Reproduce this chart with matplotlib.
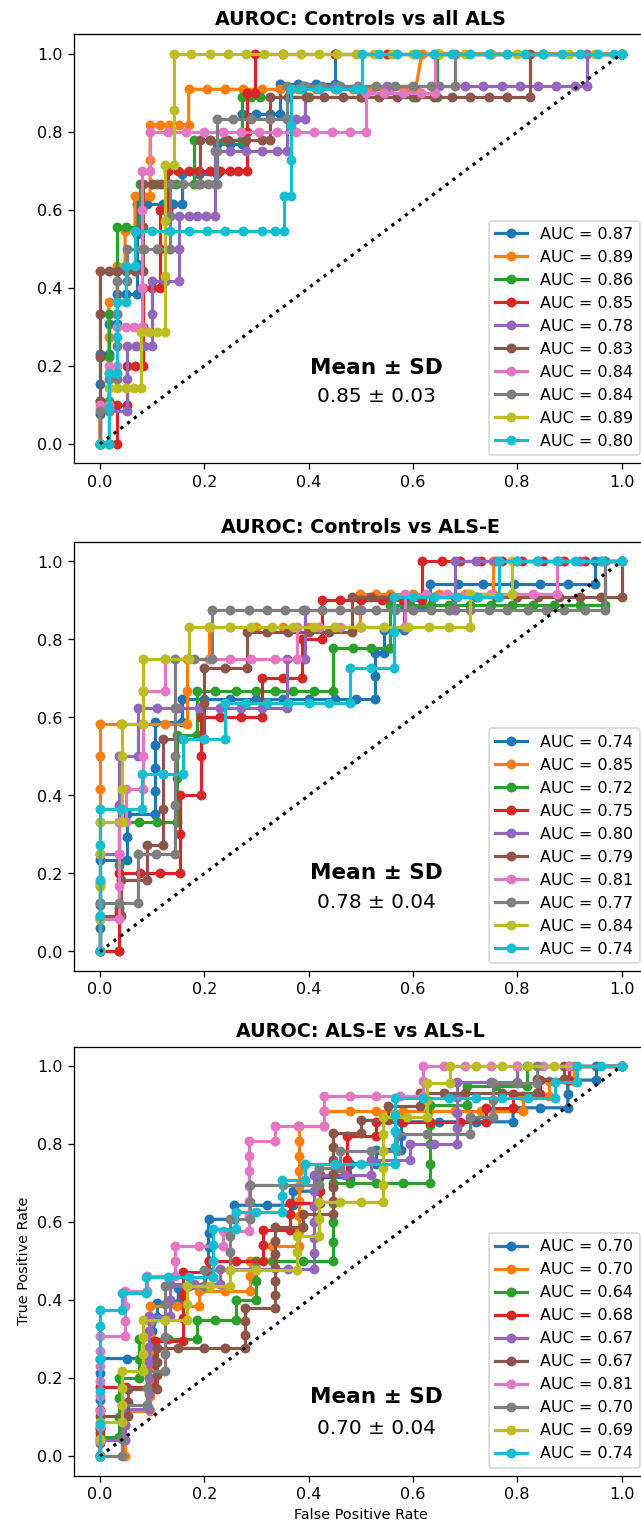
import matplotlib
matplotlib.use("Agg")
import matplotlib.pyplot as plt

# --- data (fpr, tpr) points per fold ---

# panel 1: Controls vs all ALS
all_c0 = [(0,0),(0,0.077),(0,0.154),(0,0.231),(0.017,0.231),(0.017,0.308),(0.033,0.308),(0.033,0.385),(0.05,0.385),(0.07,0.385),(0.07,0.462),(0.07,0.538),(0.07,0.615),(0.09,0.615),(0.12,0.615),(0.14,0.615),(0.157,0.615),(0.157,0.692),(0.19,0.692),(0.224,0.692),(0.224,0.769),(0.25,0.769),(0.272,0.769),(0.272,0.846),(0.3,0.846),(0.325,0.846),(0.345,0.846),(0.345,0.923),(0.38,0.923),(0.415,0.923),(0.45,0.923),(0.45,1.0),(1.0,1.0)]
all_c1 = [(0,0),(0,0.091),(0.017,0.091),(0.017,0.182),(0.017,0.273),(0.017,0.364),(0.033,0.364),(0.033,0.455),(0.048,0.455),(0.048,0.545),(0.067,0.545),(0.067,0.636),(0.083,0.636),(0.096,0.636),(0.096,0.727),(0.096,0.818),(0.115,0.818),(0.133,0.818),(0.152,0.818),(0.17,0.818),(0.17,0.909),(0.205,0.909),(0.24,0.909),(0.275,0.909),(0.31,0.909),(0.345,0.909),(0.38,0.909),(0.415,0.909),(0.45,0.909),(0.485,0.909),(0.52,0.909),(0.555,0.909),(0.59,0.909),(0.605,0.909),(0.617,1.0),(1.0,1.0)]
all_c2 = [(0,0),(0,0.111),(0.017,0.111),(0.017,0.222),(0.017,0.333),(0.033,0.333),(0.033,0.444),(0.033,0.556),(0.05,0.556),(0.077,0.556),(0.077,0.667),(0.11,0.667),(0.145,0.667),(0.18,0.667),(0.18,0.778),(0.21,0.778),(0.24,0.778),(0.272,0.778),(0.272,0.889),(0.29,0.889),(0.307,0.889),(0.4,0.889),(0.5,0.889),(0.6,0.889),(0.647,0.889),(0.647,1.0),(1.0,1.0)]
all_c3 = [(0,0),(0.033,0),(0.033,0.1),(0.051,0.1),(0.051,0.2),(0.067,0.2),(0.083,0.2),(0.083,0.3),(0.083,0.4),(0.1,0.4),(0.115,0.4),(0.115,0.5),(0.115,0.6),(0.131,0.6),(0.131,0.7),(0.15,0.7),(0.17,0.7),(0.19,0.7),(0.21,0.7),(0.23,0.7),(0.25,0.7),(0.265,0.7),(0.281,0.7),(0.281,0.8),(0.281,0.9),(0.297,0.9),(0.297,1.0),(0.35,1.0),(0.45,1.0),(0.55,1.0),(0.65,1.0),(0.75,1.0),(0.85,1.0),(1.0,1.0)]
all_c4 = [(0,0),(0.017,0),(0.017,0.083),(0.051,0.083),(0.051,0.167),(0.051,0.25),(0.068,0.25),(0.085,0.25),(0.1,0.25),(0.1,0.333),(0.1,0.417),(0.125,0.417),(0.152,0.417),(0.152,0.5),(0.152,0.583),(0.17,0.583),(0.185,0.583),(0.203,0.583),(0.22,0.583),(0.22,0.667),(0.22,0.75),(0.25,0.75),(0.28,0.75),(0.31,0.75),(0.34,0.75),(0.358,0.75),(0.358,0.833),(0.376,0.833),(0.393,0.833),(0.393,0.917),(0.45,0.917),(0.55,0.917),(0.65,0.917),(0.7,0.917),(0.735,0.917),(0.77,0.917),(0.805,0.917),(0.84,0.917),(0.875,0.917),(0.91,0.917),(0.934,0.917),(0.934,1.0),(1.0,1.0)]
all_c5 = [(0,0),(0,0.111),(0,0.222),(0,0.333),(0,0.444),(0.017,0.444),(0.033,0.444),(0.05,0.444),(0.067,0.444),(0.083,0.444),(0.083,0.556),(0.083,0.667),(0.1,0.667),(0.117,0.667),(0.134,0.667),(0.192,0.667),(0.192,0.778),(0.21,0.778),(0.245,0.778),(0.28,0.778),(0.31,0.778),(0.326,0.778),(0.326,0.889),(0.36,0.889),(0.395,0.889),(0.43,0.889),(0.465,0.889),(0.5,0.889),(0.535,0.889),(0.57,0.889),(0.605,0.889),(0.64,0.889),(0.675,0.889),(0.71,0.889),(0.745,0.889),(0.78,0.889),(0.825,0.889),(0.825,1.0),(1.0,1.0)]
all_c6 = [(0,0),(0,0.1),(0.017,0.1),(0.017,0.2),(0.033,0.2),(0.033,0.3),(0.05,0.3),(0.065,0.3),(0.08,0.3),(0.08,0.4),(0.08,0.5),(0.08,0.6),(0.08,0.7),(0.096,0.7),(0.096,0.8),(0.13,0.8),(0.165,0.8),(0.2,0.8),(0.235,0.8),(0.27,0.8),(0.305,0.8),(0.34,0.8),(0.375,0.8),(0.41,0.8),(0.445,0.8),(0.48,0.8),(0.51,0.8),(0.51,0.9),(0.545,0.9),(0.58,0.9),(0.615,0.9),(0.642,0.9),(0.642,1.0),(1.0,1.0)]
all_c7 = [(0,0),(0,0.083),(0.017,0.083),(0.017,0.167),(0.033,0.167),(0.033,0.25),(0.033,0.333),(0.033,0.417),(0.051,0.417),(0.051,0.5),(0.085,0.5),(0.11,0.5),(0.134,0.5),(0.134,0.583),(0.134,0.667),(0.16,0.667),(0.19,0.667),(0.207,0.667),(0.224,0.667),(0.224,0.75),(0.224,0.833),(0.255,0.833),(0.29,0.833),(0.325,0.833),(0.358,0.833),(0.358,0.917),(0.39,0.917),(0.425,0.917),(0.46,0.917),(0.495,0.917),(0.53,0.917),(0.565,0.917),(0.6,0.917),(0.635,0.917),(0.681,0.917),(0.681,1.0),(1.0,1.0)]
all_c8 = [(0,0),(0.017,0),(0.017,0.143),(0.033,0.143),(0.05,0.143),(0.065,0.143),(0.078,0.143),(0.078,0.286),(0.094,0.286),(0.11,0.286),(0.125,0.286),(0.125,0.429),(0.125,0.571),(0.125,0.714),(0.141,0.714),(0.141,0.857),(0.141,1.0),(0.175,1.0),(0.21,1.0),(0.245,1.0),(0.28,1.0),(0.315,1.0),(0.35,1.0),(0.385,1.0),(0.42,1.0),(0.455,1.0),(0.49,1.0),(0.525,1.0),(0.56,1.0),(0.6,1.0),(0.65,1.0),(0.7,1.0),(0.75,1.0),(0.8,1.0),(0.85,1.0),(0.9,1.0),(0.95,1.0),(1.0,1.0)]
all_c9 = [(0,0),(0.017,0),(0.017,0.091),(0.017,0.182),(0.033,0.182),(0.033,0.273),(0.033,0.364),(0.05,0.364),(0.05,0.455),(0.067,0.455),(0.067,0.545),(0.1,0.545),(0.135,0.545),(0.17,0.545),(0.205,0.545),(0.24,0.545),(0.275,0.545),(0.31,0.545),(0.335,0.545),(0.353,0.545),(0.353,0.636),(0.367,0.636),(0.367,0.727),(0.367,0.818),(0.367,0.909),(0.385,0.909),(0.42,0.909),(0.455,0.909),(0.49,0.909),(0.502,0.909),(0.502,1.0),(0.535,1.0),(0.57,1.0),(0.605,1.0),(0.64,1.0),(0.675,1.0),(0.71,1.0),(0.745,1.0),(0.78,1.0),(0.815,1.0),(0.85,1.0),(0.885,1.0),(0.92,1.0),(0.955,1.0),(0.985,1.0),(1.0,1.0)]

# panel 2: Controls vs ALS-E
e_c0 = [(0,0),(0,0.059),(0,0.118),(0,0.176),(0,0.235),(0.051,0.235),(0.051,0.294),(0.051,0.353),(0.105,0.353),(0.105,0.412),(0.105,0.471),(0.105,0.529),(0.105,0.588),(0.157,0.588),(0.157,0.647),(0.2,0.647),(0.25,0.647),(0.3,0.647),(0.35,0.647),(0.4,0.647),(0.45,0.647),(0.49,0.647),(0.527,0.647),(0.527,0.706),(0.527,0.765),(0.545,0.765),(0.545,0.824),(0.583,0.824),(0.583,0.882),(0.633,0.882),(0.633,0.941),(0.687,0.941),(0.735,0.941),(0.793,0.941),(0.844,0.941),(0.898,0.941),(0.95,0.941),(0.95,1.0),(1.0,1.0)]
e_c1 = [(0,0),(0,0.083),(0,0.167),(0,0.25),(0,0.333),(0,0.417),(0,0.5),(0,0.583),(0.04,0.583),(0.08,0.583),(0.125,0.583),(0.166,0.583),(0.166,0.667),(0.166,0.75),(0.208,0.75),(0.208,0.833),(0.25,0.833),(0.3,0.833),(0.35,0.833),(0.4,0.833),(0.45,0.833),(0.499,0.833),(0.499,0.917),(0.53,0.917),(0.556,0.917),(0.6,0.917),(0.65,0.917),(0.7,0.917),(0.754,0.917),(0.754,1.0),(1.0,1.0)]
e_c2 = [(0,0),(0.037,0),(0.037,0.111),(0.037,0.222),(0.037,0.333),(0.075,0.333),(0.11,0.333),(0.147,0.333),(0.147,0.444),(0.147,0.556),(0.185,0.556),(0.185,0.667),(0.22,0.667),(0.26,0.667),(0.3,0.667),(0.335,0.667),(0.37,0.667),(0.41,0.667),(0.447,0.667),(0.447,0.778),(0.485,0.778),(0.52,0.778),(0.556,0.778),(0.556,0.889),(0.595,0.889),(0.635,0.889),(0.67,0.889),(0.71,0.889),(0.75,0.889),(0.79,0.889),(0.83,0.889),(0.87,0.889),(0.92,0.889),(0.968,0.889),(0.968,1.0),(1.0,1.0)]
e_c3 = [(0,0),(0.037,0),(0.037,0.1),(0.037,0.2),(0.077,0.2),(0.115,0.2),(0.154,0.2),(0.154,0.3),(0.154,0.4),(0.193,0.4),(0.193,0.5),(0.193,0.6),(0.23,0.6),(0.27,0.6),(0.31,0.6),(0.31,0.7),(0.35,0.7),(0.387,0.7),(0.387,0.8),(0.425,0.8),(0.425,0.9),(0.46,0.9),(0.5,0.9),(0.54,0.9),(0.58,0.9),(0.617,0.9),(0.617,1.0),(0.655,1.0),(0.69,1.0),(0.73,1.0),(0.77,1.0),(0.81,1.0),(0.85,1.0),(0.89,1.0),(0.93,1.0),(1.0,1.0)]
e_c4 = [(0,0),(0,0.125),(0,0.25),(0.037,0.25),(0.037,0.375),(0.037,0.5),(0.072,0.5),(0.072,0.625),(0.11,0.625),(0.15,0.625),(0.19,0.625),(0.23,0.625),(0.27,0.625),(0.31,0.625),(0.358,0.625),(0.358,0.75),(0.393,0.75),(0.393,0.875),(0.5,0.875),(0.6,0.875),(0.681,0.875),(0.681,1.0),(0.72,1.0),(0.76,1.0),(0.8,1.0),(0.84,1.0),(0.88,1.0),(0.92,1.0),(0.96,1.0),(1.0,1.0)]
e_c5 = [(0,0),(0,0.091),(0.04,0.091),(0.04,0.182),(0.09,0.182),(0.09,0.273),(0.12,0.273),(0.12,0.364),(0.12,0.455),(0.12,0.545),(0.16,0.545),(0.2,0.545),(0.2,0.636),(0.2,0.727),(0.24,0.727),(0.281,0.727),(0.281,0.818),(0.32,0.818),(0.36,0.818),(0.4,0.818),(0.44,0.818),(0.483,0.818),(0.483,0.909),(0.52,0.909),(0.56,0.909),(0.6,0.909),(0.64,0.909),(0.68,0.909),(0.72,0.909),(0.76,0.909),(0.8,0.909),(0.84,0.909),(0.88,0.909),(0.92,0.909),(0.96,0.909),(1.0,0.909),(1.0,1.0)]
e_c6 = [(0,0),(0,0.083),(0.037,0.083),(0.037,0.167),(0.037,0.25),(0.037,0.333),(0.05,0.333),(0.05,0.417),(0.083,0.417),(0.083,0.5),(0.083,0.583),(0.083,0.667),(0.125,0.667),(0.125,0.75),(0.17,0.75),(0.21,0.75),(0.25,0.75),(0.29,0.75),(0.335,0.75),(0.378,0.75),(0.378,0.833),(0.42,0.833),(0.46,0.833),(0.5,0.833),(0.545,0.833),(0.585,0.833),(0.585,0.917),(0.625,0.917),(0.665,0.917),(0.705,0.917),(0.75,0.917),(0.79,0.917),(0.83,0.917),(0.876,0.917),(0.876,1.0),(1.0,1.0)]
e_c7 = [(0,0),(0,0.125),(0.036,0.125),(0.072,0.125),(0.072,0.25),(0.108,0.25),(0.144,0.25),(0.144,0.375),(0.144,0.5),(0.144,0.625),(0.144,0.75),(0.18,0.75),(0.214,0.75),(0.214,0.875),(0.25,0.875),(0.285,0.875),(0.32,0.875),(0.355,0.875),(0.39,0.875),(0.425,0.875),(0.46,0.875),(0.495,0.875),(0.53,0.875),(0.565,0.875),(0.6,0.875),(0.635,0.875),(0.67,0.875),(0.71,0.875),(0.745,0.875),(0.78,0.875),(0.82,0.875),(0.855,0.875),(0.89,0.875),(0.93,0.875),(0.968,0.875),(0.968,1.0),(1.0,1.0)]
e_c8 = [(0,0),(0,0.083),(0,0.167),(0,0.25),(0,0.333),(0.042,0.333),(0.042,0.417),(0.042,0.5),(0.042,0.583),(0.083,0.583),(0.083,0.667),(0.083,0.75),(0.125,0.75),(0.17,0.75),(0.17,0.833),(0.21,0.833),(0.25,0.833),(0.29,0.833),(0.33,0.833),(0.37,0.833),(0.41,0.833),(0.45,0.833),(0.5,0.833),(0.545,0.833),(0.59,0.833),(0.63,0.833),(0.67,0.833),(0.71,0.833),(0.71,0.917),(0.79,0.917),(0.79,1.0),(1.0,1.0)]
e_c9 = [(0,0),(0,0.091),(0,0.182),(0,0.273),(0,0.364),(0.04,0.364),(0.08,0.364),(0.08,0.455),(0.12,0.455),(0.16,0.455),(0.16,0.545),(0.2,0.545),(0.24,0.545),(0.24,0.636),(0.28,0.636),(0.32,0.636),(0.36,0.636),(0.4,0.636),(0.44,0.636),(0.48,0.636),(0.48,0.727),(0.52,0.727),(0.563,0.727),(0.563,0.818),(0.563,0.909),(0.6,0.909),(0.64,0.909),(0.685,0.909),(0.725,0.909),(0.765,0.909),(0.765,1.0),(0.8,1.0),(0.838,1.0),(0.876,1.0),(0.91,1.0),(0.962,1.0),(1.0,1.0)]

# panel 3: ALS-E vs ALS-L
el_c0 = [(0,0),(0,0.071),(0,0.143),(0,0.214),(0,0.25),(0.051,0.25),(0.1,0.25),(0.1,0.286),(0.1,0.321),(0.11,0.357),(0.11,0.393),(0.15,0.393),(0.15,0.43),(0.2,0.43),(0.208,0.5),(0.208,0.536),(0.208,0.571),(0.208,0.607),(0.256,0.607),(0.256,0.643),(0.32,0.643),(0.37,0.643),(0.37,0.679),(0.42,0.679),(0.42,0.714),(0.48,0.714),(0.48,0.75),(0.53,0.75),(0.53,0.786),(0.578,0.786),(0.578,0.821),(0.578,0.857),(0.65,0.857),(0.72,0.857),(0.792,0.857),(0.792,0.893),(0.843,0.893),(0.897,0.893),(0.897,0.929),(0.897,0.964),(0.952,0.964),(0.952,1.0),(1.0,1.0)]
el_c1 = [(0,0),(0.048,0),(0.048,0.04),(0.048,0.08),(0.048,0.115),(0.096,0.115),(0.096,0.154),(0.096,0.192),(0.096,0.231),(0.096,0.269),(0.096,0.308),(0.096,0.346),(0.096,0.385),(0.147,0.385),(0.189,0.385),(0.189,0.423),(0.24,0.423),(0.288,0.423),(0.288,0.462),(0.288,0.5),(0.33,0.5),(0.33,0.538),(0.382,0.538),(0.382,0.577),(0.382,0.615),(0.382,0.654),(0.382,0.692),(0.382,0.731),(0.382,0.769),(0.382,0.808),(0.382,0.846),(0.43,0.846),(0.43,0.885),(0.48,0.885),(0.53,0.885),(0.58,0.885),(0.63,0.885),(0.68,0.885),(0.73,0.885),(0.812,0.885),(0.812,0.923),(0.86,0.923),(0.86,0.962),(0.908,0.962),(0.908,1.0),(1.0,1.0)]
el_c2 = [(0,0),(0,0.05),(0.037,0.05),(0.037,0.1),(0.037,0.15),(0.037,0.2),(0.074,0.2),(0.074,0.25),(0.074,0.3),(0.13,0.3),(0.185,0.3),(0.185,0.35),(0.22,0.35),(0.26,0.35),(0.26,0.4),(0.3,0.4),(0.3,0.45),(0.3,0.5),(0.332,0.5),(0.39,0.5),(0.447,0.5),(0.447,0.55),(0.447,0.6),(0.447,0.65),(0.447,0.7),(0.48,0.7),(0.53,0.7),(0.58,0.7),(0.633,0.7),(0.633,0.75),(0.633,0.8),(0.633,0.85),(0.633,0.9),(0.703,0.9),(0.703,0.95),(0.76,0.95),(0.818,0.95),(0.818,1.0),(1.0,1.0)]
el_c3 = [(0,0),(0,0.059),(0,0.118),(0,0.176),(0.05,0.176),(0.105,0.176),(0.105,0.235),(0.105,0.294),(0.16,0.294),(0.16,0.353),(0.16,0.412),(0.16,0.471),(0.208,0.471),(0.208,0.5),(0.26,0.5),(0.313,0.5),(0.313,0.541),(0.313,0.58),(0.364,0.58),(0.364,0.62),(0.364,0.65),(0.422,0.65),(0.422,0.68),(0.422,0.72),(0.473,0.72),(0.473,0.76),(0.473,0.82),(0.53,0.82),(0.53,0.857),(0.58,0.857),(0.633,0.857),(0.69,0.857),(0.74,0.857),(0.74,0.893),(0.792,0.893),(0.792,0.929),(0.843,0.929),(0.843,0.964),(0.9,0.964),(0.9,1.0),(1.0,1.0)]
el_c4 = [(0,0),(0,0.04),(0.048,0.04),(0.048,0.08),(0.048,0.12),(0.093,0.12),(0.093,0.16),(0.093,0.2),(0.093,0.24),(0.093,0.28),(0.093,0.32),(0.093,0.36),(0.134,0.36),(0.134,0.4),(0.134,0.44),(0.18,0.44),(0.23,0.44),(0.23,0.48),(0.3,0.48),(0.36,0.48),(0.41,0.48),(0.41,0.52),(0.41,0.56),(0.41,0.6),(0.41,0.64),(0.41,0.68),(0.41,0.72),(0.47,0.72),(0.52,0.72),(0.52,0.76),(0.594,0.76),(0.594,0.8),(0.64,0.8),(0.684,0.8),(0.684,0.84),(0.684,0.88),(0.684,0.92),(0.684,0.96),(0.75,0.96),(0.8,0.96),(0.8,1.0),(1.0,1.0)]
el_c5 = [(0,0),(0,0.034),(0,0.069),(0,0.103),(0.054,0.103),(0.054,0.138),(0.054,0.172),(0.11,0.172),(0.11,0.207),(0.11,0.241),(0.11,0.276),(0.15,0.276),(0.2,0.276),(0.24,0.276),(0.278,0.276),(0.278,0.31),(0.278,0.345),(0.278,0.379),(0.336,0.379),(0.336,0.414),(0.336,0.448),(0.336,0.483),(0.336,0.517),(0.336,0.552),(0.336,0.586),(0.39,0.586),(0.39,0.621),(0.446,0.621),(0.446,0.655),(0.446,0.69),(0.446,0.724),(0.446,0.759),(0.446,0.793),(0.446,0.828),(0.5,0.828),(0.5,0.862),(0.553,0.862),(0.553,0.897),(0.614,0.897),(0.614,0.931),(0.66,0.931),(0.7,0.931),(0.77,0.931),(0.838,0.931),(0.838,0.966),(0.89,0.966),(0.89,1.0),(1.0,1.0)]
el_c6 = [(0,0),(0,0.038),(0,0.077),(0,0.115),(0,0.154),(0,0.192),(0,0.231),(0,0.269),(0,0.308),(0.048,0.308),(0.048,0.346),(0.048,0.385),(0.048,0.423),(0.09,0.423),(0.09,0.462),(0.144,0.462),(0.144,0.5),(0.144,0.538),(0.19,0.538),(0.236,0.538),(0.236,0.577),(0.286,0.577),(0.286,0.615),(0.286,0.654),(0.286,0.692),(0.286,0.731),(0.286,0.769),(0.286,0.808),(0.336,0.808),(0.336,0.846),(0.38,0.846),(0.43,0.846),(0.43,0.885),(0.43,0.923),(0.48,0.923),(0.53,0.923),(0.575,0.923),(0.62,0.923),(0.62,0.962),(0.62,1.0),(0.66,1.0),(0.7,1.0),(0.75,1.0),(0.8,1.0),(0.85,1.0),(0.9,1.0),(1.0,1.0)]
el_c7 = [(0,0),(0.042,0),(0.042,0.043),(0.042,0.087),(0.042,0.13),(0.09,0.13),(0.09,0.174),(0.09,0.217),(0.125,0.217),(0.125,0.261),(0.125,0.304),(0.125,0.348),(0.125,0.391),(0.125,0.435),(0.17,0.435),(0.2,0.435),(0.2,0.478),(0.25,0.478),(0.25,0.522),(0.25,0.565),(0.25,0.609),(0.288,0.609),(0.288,0.652),(0.288,0.696),(0.35,0.696),(0.42,0.696),(0.42,0.739),(0.46,0.739),(0.46,0.783),(0.52,0.783),(0.57,0.783),(0.57,0.826),(0.627,0.826),(0.71,0.826),(0.71,0.87),(0.754,0.87),(0.754,0.913),(0.754,0.957),(0.8,0.957),(0.838,0.957),(0.838,1.0),(1.0,1.0)]
el_c8 = [(0,0),(0,0.043),(0,0.087),(0.042,0.087),(0.042,0.13),(0.042,0.174),(0.042,0.217),(0.083,0.217),(0.083,0.261),(0.083,0.304),(0.083,0.348),(0.125,0.348),(0.166,0.348),(0.166,0.391),(0.166,0.435),(0.21,0.435),(0.25,0.435),(0.25,0.478),(0.3,0.478),(0.377,0.478),(0.377,0.522),(0.377,0.565),(0.42,0.565),(0.42,0.609),(0.42,0.652),(0.46,0.652),(0.5,0.652),(0.543,0.652),(0.543,0.696),(0.543,0.739),(0.543,0.783),(0.543,0.826),(0.543,0.87),(0.588,0.87),(0.627,0.87),(0.627,0.913),(0.627,0.957),(0.671,0.957),(0.671,1.0),(0.72,1.0),(0.77,1.0),(0.82,1.0),(0.87,1.0),(1.0,1.0)]
el_c9 = [(0,0),(0,0.083),(0,0.167),(0,0.25),(0,0.333),(0,0.375),(0.042,0.375),(0.042,0.417),(0.088,0.417),(0.088,0.458),(0.13,0.458),(0.17,0.458),(0.217,0.458),(0.217,0.5),(0.217,0.542),(0.217,0.583),(0.26,0.583),(0.26,0.625),(0.3,0.625),(0.348,0.625),(0.348,0.667),(0.348,0.708),(0.393,0.708),(0.393,0.75),(0.45,0.75),(0.5,0.75),(0.566,0.75),(0.566,0.792),(0.566,0.833),(0.566,0.875),(0.566,0.917),(0.62,0.917),(0.67,0.917),(0.72,0.917),(0.77,0.917),(0.82,0.917),(0.873,0.917),(0.873,0.958),(0.914,0.958),(0.914,1.0),(0.96,1.0),(1.0,1.0)]

auc_all = [0.87, 0.89, 0.86, 0.85, 0.78, 0.83, 0.84, 0.84, 0.89, 0.80]
auc_e = [0.74, 0.85, 0.72, 0.75, 0.80, 0.79, 0.81, 0.77, 0.84, 0.74]
auc_el = [0.70, 0.70, 0.64, 0.68, 0.67, 0.67, 0.81, 0.70, 0.69, 0.74]

titles = ["AUROC: Controls vs all ALS", "AUROC: Controls vs ALS-E", "AUROC: ALS-E vs ALS-L"]
mean_auc = [0.85, 0.78, 0.70]
sd_auc = [0.03, 0.04, 0.04]

panels = [
    [all_c0, all_c1, all_c2, all_c3, all_c4, all_c5, all_c6, all_c7, all_c8, all_c9],
    [e_c0, e_c1, e_c2, e_c3, e_c4, e_c5, e_c6, e_c7, e_c8, e_c9],
    [el_c0, el_c1, el_c2, el_c3, el_c4, el_c5, el_c6, el_c7, el_c8, el_c9],
]
aucs = [auc_all, auc_e, auc_el]

# layout (figure fractions)
bottoms = [0.6965, 0.3641, 0.0337]
text_y = [(0.195, 0.121), (0.202, 0.125), (0.151, 0.072)]

fig = plt.figure(figsize=(641 / 115, 1527.2 / 115), dpi=115)

for p in range(3):
    ax = fig.add_axes([0.1154, bottoms[p], 0.8949, 0.2809])
    for i, curve in enumerate(panels[p]):
        fpr = [pt[0] for pt in curve]
        tpr = [pt[1] for pt in curve]
        ax.plot(fpr, tpr, marker='o', markersize=5.2, lw=2,
                color='C%d' % i, label='AUC = %.2f' % aucs[p][i])
    ax.plot([0, 1], [0, 1], 'k:', lw=2)
    ax.set_xlim(-0.05, 1.05)
    ax.set_ylim(-0.05, 1.05)
    ax.set_xticks([0, 0.2, 0.4, 0.6, 0.8, 1.0])
    ax.set_yticks([0, 0.2, 0.4, 0.6, 0.8, 1.0])
    ax.set_title(titles[p], fontsize=12, fontweight='bold')
    ax.legend(loc='lower right', fontsize=10)
    ax.text(0.53, text_y[p][0], 'Mean \u00b1 SD', fontsize=13.5, fontweight='bold',
            ha='center', va='center')
    ax.text(0.53, text_y[p][1], '%.2f \u00b1 %.2f' % (mean_auc[p], sd_auc[p]),
            fontsize=12.5, ha='center', va='center')
    if p == 2:
        ax.set_xlabel('False Positive Rate', fontsize=9)
        ax.set_ylabel('True Positive Rate', fontsize=9)

fig.savefig('out.png', dpi=115)
